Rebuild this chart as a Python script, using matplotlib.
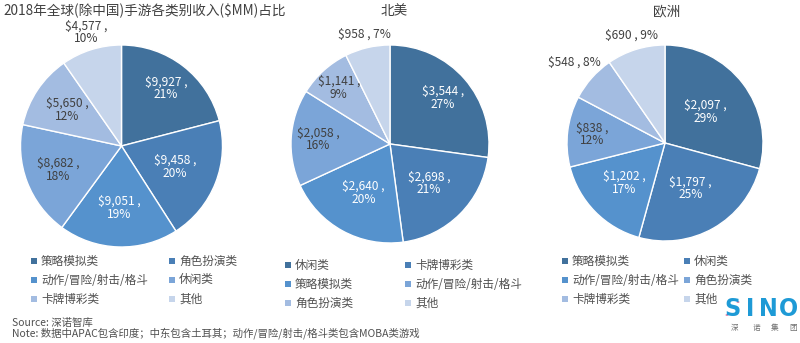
import math
import matplotlib
matplotlib.use('Agg')
import matplotlib.pyplot as plt
from matplotlib.patches import Rectangle, Circle

plt.rcParams['font.family'] = ['Noto Sans CJK SC', 'DejaVu Sans']

# ---------------- data ----------------
title_global = "2018年全球(除中国)手游各类别收入($MM)占比"
title_na = "北美"
title_eu = "欧洲"

global_cats = ["策略模拟类", "角色扮演类", "动作/冒险/射击/格斗", "休闲类", "卡牌博彩类", "其他"]
global_vals = [9927, 9458, 9051, 8682, 5650, 4577]
global_pcts = [21, 20, 19, 18, 12, 10]

na_cats = ["休闲类", "卡牌博彩类", "策略模拟类", "动作/冒险/射击/格斗", "角色扮演类", "其他"]
na_vals = [3544, 2698, 2640, 2058, 1141, 958]
na_pcts = [27, 21, 20, 16, 9, 7]

eu_cats = ["策略模拟类", "休闲类", "动作/冒险/射击/格斗", "角色扮演类", "卡牌博彩类", "其他"]
eu_vals = [2097, 1797, 1202, 838, 548, 690]
eu_pcts = [29, 25, 17, 12, 8, 9]

source_text = "Source: 深诺智库"
note_text = "Note: 数据中APAC包含印度；中东包含土耳其；动作/冒险/射击/格斗类包含MOBA类游戏"
logo_letters = ["S", "I", "N", "O"]
logo_sub = ["深", "诺", "集", "团"]

# ---------------- style ----------------
W, H = 800, 343
colors = ['#41719c', '#4a7fb6', '#5592cd', '#7ba5d8', '#a3bce1', '#c6d5eb']
dark_text = '#404040'
legend_text = '#505050'

fig = plt.figure(figsize=(W / 100, H / 100), dpi=100)
fig.patch.set_facecolor('white')


def fx(x):
    return x / W


def fy(y):
    return 1 - y / H


pies = [
    dict(title=title_global, cats=global_cats, vals=global_vals, pcts=global_pcts,
         cx=121.5, cy=146, r=101, tx=None, ty=11,
         dist=[0.72, 0.57, 0.61, 0.67, 0.65, 1.18],
         oneline=[False, False, False, False, False, False],
         leg_x=(34, 172), leg_y=(261, 280, 299)),
    dict(title=title_na, cats=na_cats, vals=na_vals, pcts=na_pcts,
         cx=390, cy=144, r=99, tx=394, ty=11,
         dist=[0.71, 0.56, 0.56, 0.73, 0.77, 1.14],
         oneline=[False, False, False, False, False, True],
         leg_x=(288, 408), leg_y=(265, 284, 303)),
    dict(title=title_eu, cats=eu_cats, vals=eu_vals, pcts=eu_pcts,
         cx=665, cy=143, r=98, tx=667, ty=11,
         dist=[0.52, 0.53, 0.58, 0.75, 1.24, 1.15],
         oneline=[False, False, False, False, True, True],
         leg_x=(565, 687), leg_y=(261, 280, 299)),
]

for p in pies:
    cx, cy, r = p['cx'], p['cy'], p['r']
    ax = fig.add_axes([fx(cx - r), fy(cy + r), 2 * r / W, 2 * r / H])
    wedges, _ = ax.pie(p['vals'], colors=colors, startangle=90, counterclock=False,
                       radius=1, wedgeprops=dict(edgecolor='white', linewidth=1.0))
    ax.set_xlim(-1, 1)
    ax.set_ylim(-1, 1)
    ax.set_aspect('equal')
    ax.axis('off')
    for i, w in enumerate(wedges):
        th = math.radians((w.theta1 + w.theta2) / 2)
        d = p['dist'][i]
        sep = " , " if p['oneline'][i] else " ,\n"
        txt = f"${p['vals'][i]:,}{sep}{p['pcts'][i]}%"
        col = 'white' if (i < 3 and d < 1) else dark_text
        ax.text(d * math.cos(th), d * math.sin(th), txt, ha='center', va='center',
                fontsize=8.6, color=col, linespacing=1.0, clip_on=False)

    # titles
    if p['tx'] is None:
        fig.text(fx(3), fy(p['ty']), p['title'], ha='left', va='center',
                 fontsize=9.8, color=dark_text)
    else:
        fig.text(fx(p['tx']), fy(p['ty']), p['title'], ha='center', va='center',
                 fontsize=9.8, color=dark_text)

    # legend (row-major, 2 columns)
    for i, cat in enumerate(p['cats']):
        col_i, row_i = i % 2, i // 2
        mx = p['leg_x'][col_i]
        my = p['leg_y'][row_i]
        fig.add_artist(Rectangle((fx(mx - 3), fy(my + 3)), 6 / W, 6 / H,
                                 transform=fig.transFigure, facecolor=colors[i],
                                 edgecolor='none'))
        fig.text(fx(mx + 7), fy(my), cat, ha='left', va='center',
                 fontsize=8.4, color=legend_text)

# source / note
fig.text(fx(12), fy(323), source_text, ha='left', va='center', fontsize=7.5, color=legend_text)
fig.text(fx(12), fy(333), note_text, ha='left', va='center', fontsize=7.5, color=legend_text)

# logo
logo_blue = '#1e9ad6'
for ch, x in zip(logo_letters, [732, 750, 768, 788]):
    fig.text(fx(x), fy(309), ch, ha='center', va='center', fontsize=18,
             family=['DejaVu Sans'], fontstretch='condensed', fontweight='bold',
             color=logo_blue)
for ch, x in zip(logo_sub, [735, 756, 775, 793]):
    fig.text(fx(x), fy(328), ch, ha='center', va='center', fontsize=5.5, color='#707070')
for (x, y) in [(738, 302), (727, 315)]:
    fig.add_artist(Circle((fx(x), fy(y)), 1.5 / W, transform=fig.transFigure,
                          facecolor='#e0457b', edgecolor='none'))

fig.savefig('out.png', dpi=100, facecolor='white')
